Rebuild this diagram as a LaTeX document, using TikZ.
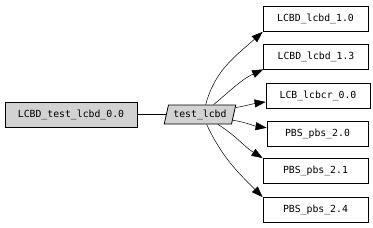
\documentclass[tikz,border=0pt]{standalone}
\usepackage{fontspec}
\setmonofont{DejaVu Sans Mono}
\usepackage{tikz}
\usetikzlibrary{positioning, arrows.meta, shapes.geometric}

\begin{document}
\begin{tikzpicture}[
    x=1pt, y=1pt,
    >={Triangle[length=11pt, width=8pt]},
    box/.style={
      draw, line width=0.8pt, inner sep=0pt,
      minimum height=25pt, minimum width=105pt,
      font=\ttfamily\fontsize{9.8}{11}\selectfont},
    root/.style={box, fill=gray!35, minimum width=132pt},
    prog/.style={
      draw, line width=0.8pt, fill=gray!35, inner sep=0pt,
      trapezium, trapezium left angle=70, trapezium right angle=110,
      trapezium stretches=true,
      minimum height=19pt, minimum width=72pt,
      font=\ttfamily\fontsize{9.8}{11}\selectfont},
    arr/.style={->, line width=0.5pt},
]

\useasboundingbox (0,0) rectangle (373,-228);

% Source and program
\node[root] (src) at (71,-114.5) {LCBD\_test\_lcbd\_0.0};
\node[prog] (prg) at (200,-114.5) {test\_lcbd};

\draw[line width=0.8pt] (src) -- (prg);

% --- Targets ---
\node[box] (lcbd10) at (315.5,-19)  {LCBD\_lcbd\_1.0};
\node[box] (lcbd13) at (316,-56.5)  {LCBD\_lcbd\_1.3};
\node[box, minimum width=104pt]
           (lcbcr)  at (318,-95.5)  {LCB\_lcbcr\_0.0};
\node[box, minimum width=101pt]
           (pbs20)  at (317.5,-134) {PBS\_pbs\_2.0};
\node[box] (pbs21)  at (315.5,-171) {PBS\_pbs\_2.1};
\node[box] (pbs24)  at (315.5,-210) {PBS\_pbs\_2.4};

\draw[arr] (prg.60)  to[out=75, in=222]  (lcbd10.south west);
\draw[arr] (prg.36)  to[out=40, in=205]  (lcbd13.south west);
\draw[arr] (prg.11)  to[out=10, in=188]  (lcbcr.187);
\draw[arr] (prg.-10) to[out=-8, in=172]  (pbs20.173);
\draw[arr] (prg.-29) to[out=-32, in=148] (pbs21.north west);
\draw[arr] (prg.-56) to[out=-65, in=135] (pbs24.north west);

\end{tikzpicture}
\end{document}
